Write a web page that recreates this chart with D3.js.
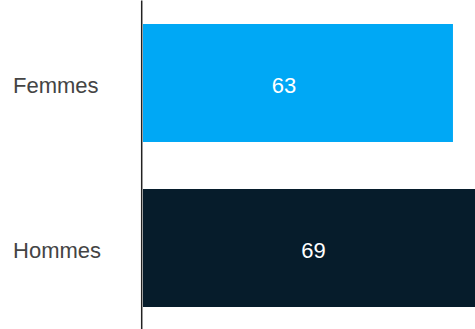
<!DOCTYPE html>
<html>
<head>
<meta charset="utf-8">
<script src="https://cdn.jsdelivr.net/npm/d3@7"></script>
<style>
  html, body { margin: 0; padding: 0; background: #fff; }
  svg { display: block; }
  .lbl { font-family: "Liberation Sans", Arial, Helvetica, sans-serif; font-size: 22px; }
</style>
</head>
<body>
<svg id="chart" width="475" height="329"></svg>
<script>
// Comparison by sex: one horizontal bar per category
const categories = ["Femmes", "Hommes"];
const values = [63, 69];
const colors = ["#00A8F5", "#061C2B"];

const W = 475, H = 329;
const axisX = 141.2;
const svg = d3.select("#chart");

const y = d3.scaleBand()
  .domain(categories)
  .range([0, 331])
  .paddingInner(0.285)
  .paddingOuter(0.1455);

const x = d3.scaleLinear()
  .domain([0, 70])
  .range([143, 143 + 70 * 4.92]);

// bars
svg.selectAll("rect.bar")
  .data(categories)
  .join("rect")
  .attr("class", "bar")
  .attr("x", x(0))
  .attr("y", d => y(d))
  .attr("width", (d, i) => x(values[i]) - x(0))
  .attr("height", y.bandwidth())
  .attr("fill", (d, i) => colors[i]);

// value labels inside bars
svg.selectAll("text.val")
  .data(categories)
  .join("text")
  .attr("class", "lbl val")
  .attr("x", (d, i) => x(values[i]) - 169)
  .attr("y", d => y(d) + y.bandwidth() / 2)
  .attr("dy", "0.45em")
  .attr("text-anchor", "middle")
  .attr("fill", "#ffffff")
  .text((d, i) => values[i]);

// category axis
const axis = svg.append("g")
  .attr("transform", `translate(${axisX},0)`)
  .call(d3.axisLeft(y).tickSize(0).tickPadding(0));

axis.select(".domain")
  .attr("stroke", "#222")
  .attr("stroke-width", 1.5);

axis.selectAll(".tick text")
  .attr("class", "lbl")
  .attr("x", 13 - axisX)
  .attr("dy", "0.45em")
  .attr("text-anchor", "start")
  .attr("fill", "#444444")
  .style("font-size", "22px");
</script>
</body>
</html>
